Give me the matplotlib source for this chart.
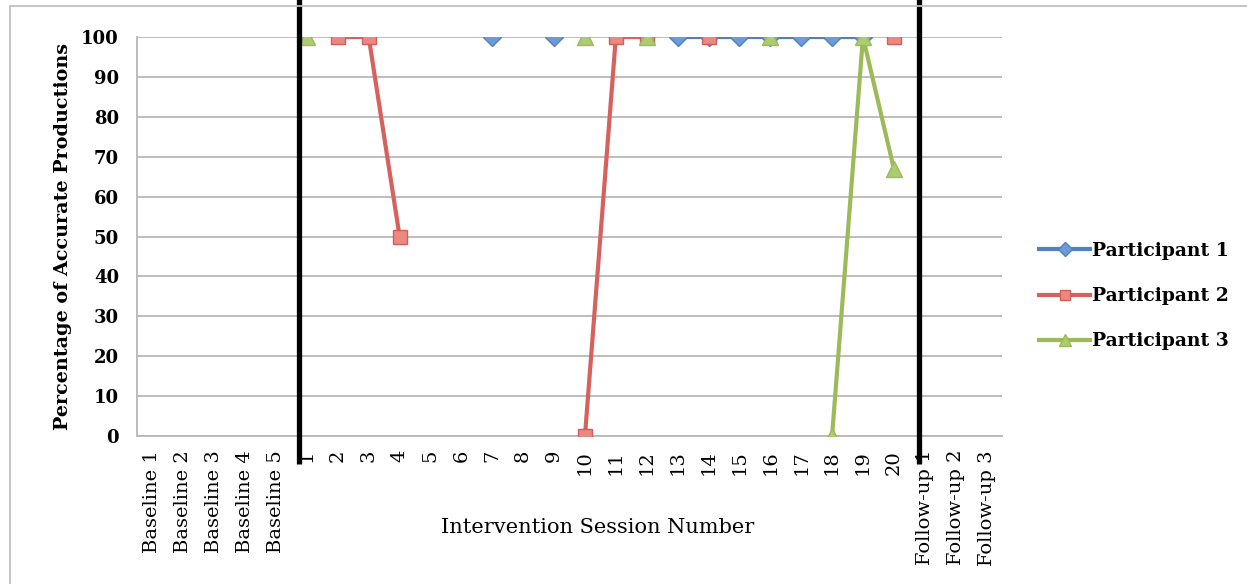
import numpy as np
import matplotlib.pyplot as plt
from matplotlib.patches import Rectangle

plt.rcParams['font.family'] = ['DejaVu Serif']

# session labels: 5 baseline probes, 20 intervention sessions, 3 follow-ups
baseline = [f'Baseline {i}' for i in range(1, 6)]
sessions = [str(i) for i in range(1, 21)]
followup = [f'Follow-up {i}' for i in range(1, 4)]
categories = baseline + sessions + followup

nan = np.nan
# percentage of accurate productions per intervention session (nan = not probed)
p1 = [nan, nan, nan, nan, nan, nan, 100, nan, 100, nan,
      nan, nan, 100, 100, 100, 100, 100, 100, 100, nan]
p2 = [nan, 100, 100, 50, nan, nan, nan, nan, nan, 0,
      100, 100, nan, 100, nan, nan, nan, nan, nan, 100]
p3 = [100, nan, nan, nan, nan, nan, nan, nan, nan, 100,
      nan, 100, nan, nan, nan, 100, nan, 0, 100, 67]

series_names = ['Participant 1', 'Participant 2', 'Participant 3']

def full_row(vals):
    return [nan] * len(baseline) + vals + [nan] * len(followup)

fig = plt.figure(figsize=(12.47, 5.84), dpi=100)
ax = fig.add_axes([0.1099, 0.2534, 0.6936, 0.6832])

x = np.arange(len(categories))
styles = [
    dict(color='#4F81BD', marker='D', ms=9, mfc='#6B9CD9', mec='#4F81BD'),
    dict(color='#D6615D', marker='s', ms=10.5, mfc='#EC8782', mec='#D0605C'),
    dict(color='#9BBB59', marker='^', ms=11.5, mfc='#ADCB70', mec='#9BBB59'),
]
for vals, name, st in zip([p1, p2, p3], series_names, styles):
    ax.plot(x, full_row(vals), lw=3.0, label=name, mew=1, zorder=3, **st)

ax.set_xlim(-0.5, len(categories) - 0.5)
ax.set_ylim(0, 100)
ax.set_yticks(range(0, 101, 10))
ax.set_xticks(x)
ax.set_xticklabels(categories, rotation=90, fontsize=14)
for lab in ax.get_yticklabels():
    lab.set_fontweight('bold')
    lab.set_fontsize(13)
ax.tick_params(axis='y', length=0, pad=13)
ax.tick_params(axis='x', length=0, pad=10)
ax.grid(axis='y', color='#B8B8B8', lw=1.3)
ax.set_axisbelow(True)
for side in ['top', 'right']:
    ax.spines[side].set_visible(False)
for side in ['left', 'bottom']:
    ax.spines[side].set_color('#B8B8B8')
    ax.spines[side].set_linewidth(1.3)

ax.set_ylabel('Percentage of Accurate Productions', fontsize=13.8,
              fontweight='bold')
ax.yaxis.set_label_coords(-0.075, 0.5)
ax.set_xlabel('Intervention Session Number', fontsize=15)
ax.xaxis.set_label_coords(0.532, -0.205)

# phase-change lines between baseline / intervention / follow-up
phase_lines = [len(baseline) - 0.26, len(baseline) + len(sessions) - 0.19]
for px in phase_lines:
    ax.plot([px, px], [-7, 109.5], color='black', lw=3.8, clip_on=False,
            zorder=4, solid_capstyle='butt')

ax.legend(loc='center left', bbox_to_anchor=(0.8335, 0.493),
          bbox_transform=fig.transFigure, frameon=False,
          prop=dict(weight='bold', size=13.5), handlelength=2.7,
          handletextpad=0.1, labelspacing=1.45, markerscale=0.75,
          borderpad=0, borderaxespad=0)

fig.add_artist(Rectangle((0.008, -0.1), 1.5, 1.0897, transform=fig.transFigure,
                         fill=False, edgecolor='#C0C0C0', lw=1.3))

fig.savefig('out.png', dpi=100)
